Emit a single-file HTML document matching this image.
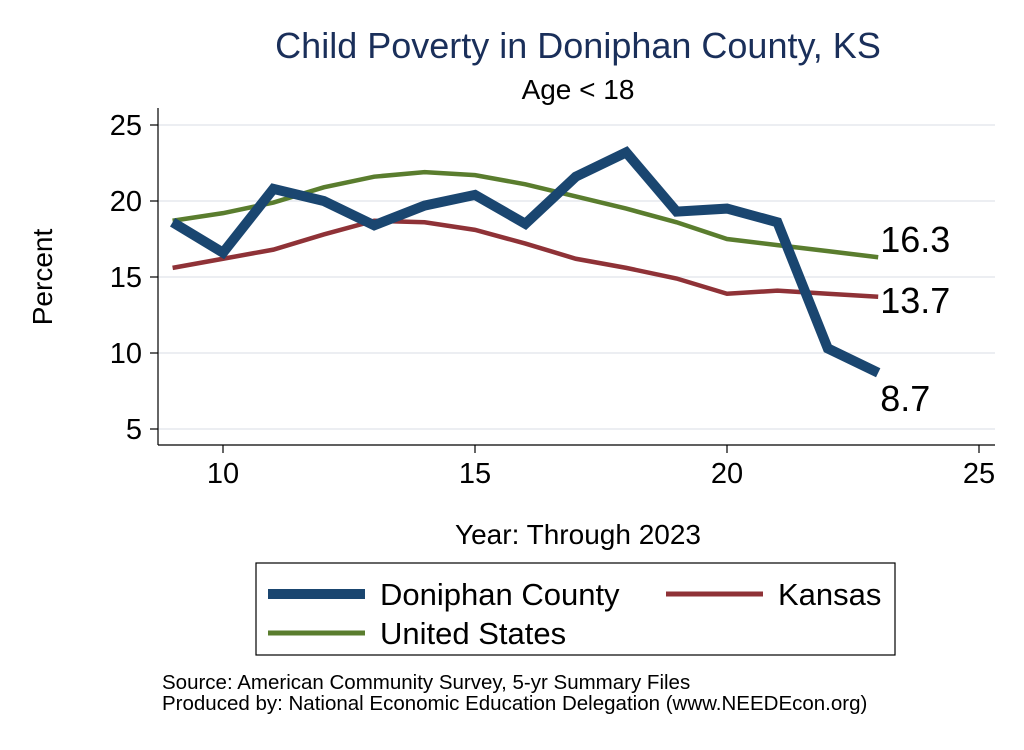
<!DOCTYPE html>
<html><head><meta charset="utf-8"><style>
body{margin:0;background:#fff;}
svg text{font-family:"Liberation Sans",Arial,sans-serif;}
</style></head><body>
<svg id="chart" width="1024" height="745" viewBox="0 0 1024 745">
<rect x="0" y="0" width="1024" height="745" fill="#fff"/>
<text x="578" y="58" font-size="36" fill="#1a2f5a" text-anchor="middle">Child Poverty in Doniphan County, KS</text>
<text x="578" y="99" font-size="28" fill="#000" text-anchor="middle">Age &lt; 18</text>
<g id="grid"></g>
<g id="axes"></g>
<g id="series"></g>
<text x="578" y="544" font-size="28" text-anchor="middle">Year: Through 2023</text>
<text x="52" y="277" font-size="28" text-anchor="middle" transform="rotate(-90 52 277)">Percent</text>
<g>
<rect x="256" y="563" width="639" height="92" fill="#fff" stroke="#000" stroke-width="1.2"/>
<g><line x1="268" y1="594" x2="365" y2="594" stroke="#1a4670" stroke-width="10"/><text x="380" y="605" font-size="31">Doniphan County</text></g>
<g><line x1="666" y1="594" x2="763" y2="594" stroke="#8f3237" stroke-width="5"/><text x="778" y="605" font-size="31">Kansas</text></g>
<g><line x1="268" y1="633" x2="365" y2="633" stroke="#5a7d2e" stroke-width="5"/><text x="380" y="644" font-size="31">United States</text></g>
</g>
<text x="162" y="689" font-size="20.5">Source: American Community Survey, 5-yr Summary Files</text>
<text x="162" y="710" font-size="20.5">Produced by: National Economic Education Delegation (www.NEEDEcon.org)</text>
</svg>
<script>
const years=[9,10,11,12,13,14,15,16,17,18,19,20,21,22,23];
const doniphan=[18.6,16.6,20.8,20.0,18.4,19.7,20.4,18.5,21.6,23.2,19.3,19.5,18.6,10.3,8.7];
const kansas=[15.6,16.2,16.8,17.8,18.7,18.6,18.1,17.2,16.2,15.6,14.9,13.9,14.1,13.9,13.7];
const us=[18.7,19.2,19.9,20.9,21.6,21.9,21.7,21.1,20.3,19.5,18.6,17.5,17.1,16.7,16.3];
const xTicks=[10,15,20,25];
const yTicks=[5,10,15,20,25];
const NS="http://www.w3.org/2000/svg";
const X=v=>223+(v-10)*50.4;
const Y=v=>201-(v-20)*15.2;
function mk(tag,attrs,parent){const e=document.createElementNS(NS,tag);for(const k in attrs)e.setAttribute(k,attrs[k]);document.getElementById(parent).appendChild(e);return e;}
const grid='grid',axes='axes',ser='series';
for(const t of yTicks){
 const g=mk('line',{x1:158,x2:995,y1:Y(t),y2:Y(t),stroke:'#e6e9ee','stroke-width':1.5},grid);
 
 
 const tk=mk('line',{x1:150,x2:158,y1:Y(t),y2:Y(t),stroke:'#000','stroke-width':1.2},axes);
 
 
 const tx=mk('text',{x:142,y:Y(t)+10,'font-size':29,'text-anchor':'end'},axes);tx.textContent=t;
 
 
}
for(const t of xTicks){
 const tk=mk('line',{x1:X(t),x2:X(t),y1:445,y2:453,stroke:'#000','stroke-width':1.2},axes);
 
 
 const tx=mk('text',{x:X(t),y:483,'font-size':29,'text-anchor':'middle'},axes);tx.textContent=t;
 
 
}
const ya=mk('line',{x1:158,x2:158,y1:108,y2:445,stroke:'#000','stroke-width':1.2},axes);


const xa=mk('line',{x1:158,x2:995,y1:445,y2:445,stroke:'#000','stroke-width':1.2},axes);


function line(vals,color,w,name){
 const p=mk('polyline',{points:years.map((y,i)=>X(y)+','+Y(vals[i])).join(' '),fill:'none',stroke:color,'stroke-width':w,'stroke-linejoin':'miter'},ser);
 
 
}
line(kansas,'#8f3237',4.5,'kansas-line');
line(us,'#5a7d2e',4.5,'us-line');
line(doniphan,'#1a4670',10,'doniphan-line');
const n=years.length-1;
const labs=[[us,-5,'us-end-label'],[kansas,16,'kansas-end-label'],[doniphan,38,'doniphan-end-label']];
for(const [s,dy,name] of labs){
 const t=mk('text',{x:X(years[n])+2,y:Y(s[n])+dy,'font-size':36},ser);
 t.textContent=s[n].toFixed(1);
 
 
}
</script>
</body></html>
